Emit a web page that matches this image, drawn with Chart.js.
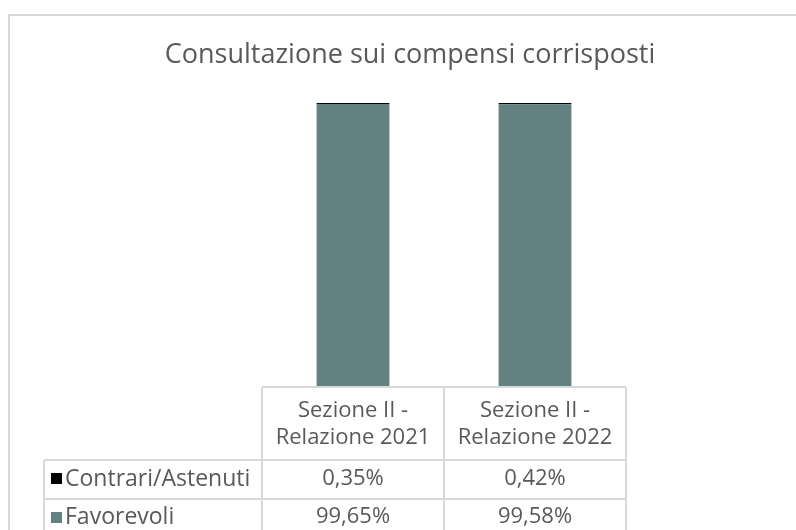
<!DOCTYPE html>
<html>
<head>
<meta charset="utf-8">
<script src="https://cdn.jsdelivr.net/npm/chart.js@4.4.0/dist/chart.umd.min.js"></script>
<style>
  body { margin: 0; background: #fff; }
  #wrap { width: 796px; height: 530px; }
</style>
</head>
<body>
<div id="wrap"><canvas id="barChart"></canvas></div>
<script>
'use strict';

const chartTitle = 'Consultazione sui compensi corrisposti';
const categories = [['Sezione II -', 'Relazione 2021'], ['Sezione II -', 'Relazione 2022']];
const favorevoli = [99.65, 99.58];
const contrari = [0.35, 0.42];
const favorevoliLabels = ['99,65%', '99,58%'];
const contrariLabels = ['0,35%', '0,42%'];

const gridColor = '#d9d9d9';
const textColor = '#595959';
const fontFamily = '"Open Sans", "Noto Sans", sans-serif';

// Frame, title and data table under the bars
const tablePlugin = {
    id: 'dataTable',
    afterDraw(chart) {
        const c = chart.ctx;
        const xs = chart.scales.x;
        const area = chart.chartArea;
        const step = xs.getPixelForValue(1) - xs.getPixelForValue(0);
        const left = area.left;
        const right = area.right;
        const top = area.bottom;
        const labelLeft = 44;
        const row1 = top + 73;
        const row2 = row1 + 39;
        const bottom = 540;

        c.save();
        c.strokeStyle = gridColor;
        c.lineWidth = 2;
        // outer frame
        c.strokeRect(9, 15, 820, 560);

        c.fillStyle = textColor;
        c.font = '27px ' + fontFamily;
        c.textAlign = 'center';
        c.textBaseline = 'middle';
        c.fillText(chartTitle, 410, 55);

        c.beginPath();
        c.moveTo(left, top); c.lineTo(right, top);
        c.moveTo(labelLeft, row1); c.lineTo(right, row1);
        c.moveTo(labelLeft, row2); c.lineTo(right, row2);
        c.moveTo(labelLeft, row1); c.lineTo(labelLeft, bottom);
        for (let i = 0; i <= categories.length; i++) {
            const x = left + i * step;
            c.moveTo(x, top); c.lineTo(x, bottom);
        }
        c.stroke();

        c.font = '22px ' + fontFamily;
        categories.forEach((lines, i) => {
            const cx = xs.getPixelForValue(i);
            c.fillText(lines[0], cx, top + 24);
            c.fillText(lines[1], cx, top + 51);
            c.fillText(contrariLabels[i], cx, row1 + 19);
            c.fillText(favorevoliLabels[i], cx, row2 + 18);
        });

        c.textAlign = 'left';
        c.fillStyle = '#000000';
        c.fillRect(51, row1 + 13, 11, 11);
        c.fillStyle = '#628180';
        c.fillRect(51, row2 + 13, 11, 11);
        c.fillStyle = textColor;
        c.font = '23px ' + fontFamily;
        c.fillText('Contrari/Astenuti', 65, row1 + 19);
        c.fillText('Favorevoli', 65, row2 + 18);
        c.restore();
    }
};

new Chart(document.getElementById('barChart'), {
    type: 'bar',
    data: {
        labels: categories,
        datasets: [{
            label: 'Favorevoli',
            data: favorevoli,
            backgroundColor: '#628180',
            barPercentage: 0.4,
            categoryPercentage: 1
        }, {
            label: 'Contrari/Astenuti',
            data: contrari,
            backgroundColor: '#000000',
            barPercentage: 0.4,
            categoryPercentage: 1,
            minBarLength: 2
        }]
    },
    options: {
        responsive: true,
        maintainAspectRatio: false,
        animation: false,
        layout: {
            padding: { left: 262, right: 170, top: 103, bottom: 143 }
        },
        scales: {
            x: { stacked: true, display: false },
            y: { stacked: true, display: false, min: 0, max: 100 }
        },
        plugins: {
            legend: { display: false },
            tooltip: { enabled: false },
            title: { display: false }
        }
    },
    plugins: [tablePlugin]
});
</script>
</body>
</html>
